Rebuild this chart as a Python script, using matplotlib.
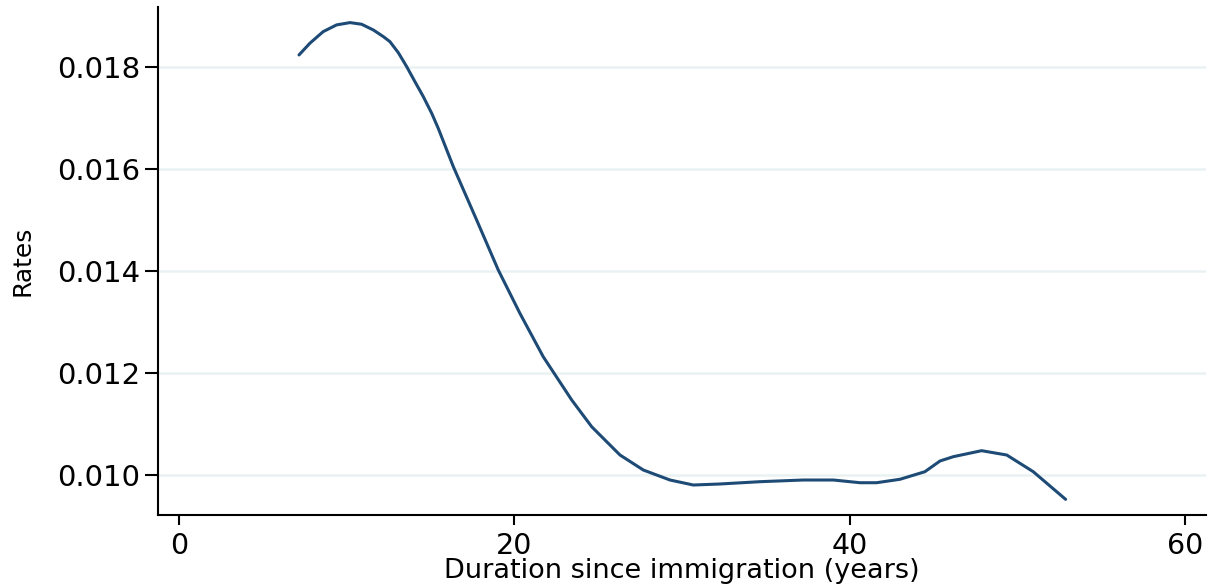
import matplotlib
matplotlib.use("Agg")
import matplotlib.pyplot as plt

# Data (duration in years, smoothed rate)
duration = [7.16, 7.81, 8.60, 9.40, 10.20, 10.89, 11.59, 12.19, 12.58, 13.08,
            13.58, 14.07, 14.57, 15.07, 15.46, 16.36, 17.75,
            19.04, 20.33, 21.72, 23.42, 24.61, 26.30, 27.69, 29.28, 30.67, 32.26,
            34.64, 37.23, 39.02, 40.61, 41.60, 42.99, 44.48, 45.38, 46.17, 47.86,
            49.36, 50.94, 52.87]
rates = [0.018236, 0.018466, 0.018693, 0.018825, 0.018870, 0.018838, 0.018726,
         0.018595, 0.018497, 0.018281, 0.018007, 0.017713, 0.017419, 0.017093,
         0.016799, 0.016046, 0.015001, 0.014020, 0.013171, 0.012320, 0.011471,
         0.010947, 0.010392, 0.010098, 0.009902, 0.009804, 0.009824, 0.009869,
         0.009902, 0.009902, 0.009849, 0.009849, 0.009916, 0.010065, 0.010275,
         0.010359, 0.010477, 0.010392, 0.010065, 0.009523]

x_ticks = [0, 20, 40, 60]
x_tick_labels = ["0", "20", "40", "60"]
y_ticks = [0.010, 0.012, 0.014, 0.016, 0.018]
y_tick_labels = ["0.010", "0.012", "0.014", "0.016", "0.018"]

line_color = "#1d4b76"
grid_color = "#eaf1f3"

plt.rcParams['font.family'] = ['DejaVu Sans']

fig = plt.figure(figsize=(12.13, 5.86), dpi=100)
ax = fig.add_axes([158.3 / 1213, 71 / 586, (1206 - 158.3) / 1213, (515 - 7) / 586])

ax.plot(duration, rates, color=line_color, linewidth=2.2,
        solid_joinstyle='round', solid_capstyle='round', zorder=3)

ax.set_xlim(-1.23, 61.24)
ax.set_ylim(0.009216, 0.019176)

ax.set_xticks(x_ticks)
ax.set_xticklabels(x_tick_labels)
ax.set_yticks(y_ticks)
ax.set_yticklabels(y_tick_labels)

ax.yaxis.grid(True, color=grid_color, linewidth=1.8, zorder=0)
ax.xaxis.grid(False)
ax.set_axisbelow(True)

for s in ['top', 'right']:
    ax.spines[s].set_visible(False)
for s in ['left', 'bottom']:
    ax.spines[s].set_linewidth(1.5)
    ax.spines[s].set_color('black')

ax.tick_params(axis='y', length=9.4, width=1.5, pad=3.5, labelsize=21, colors='black')
ax.tick_params(axis='x', length=7, width=1.5, pad=5, labelsize=20.5, colors='black')

ax.set_xlabel("Duration since immigration (years)", fontsize=19.5, labelpad=-1)
ax.set_ylabel("Rates", fontsize=18, labelpad=16)

fig.savefig("out.png", dpi=100, facecolor='white')
